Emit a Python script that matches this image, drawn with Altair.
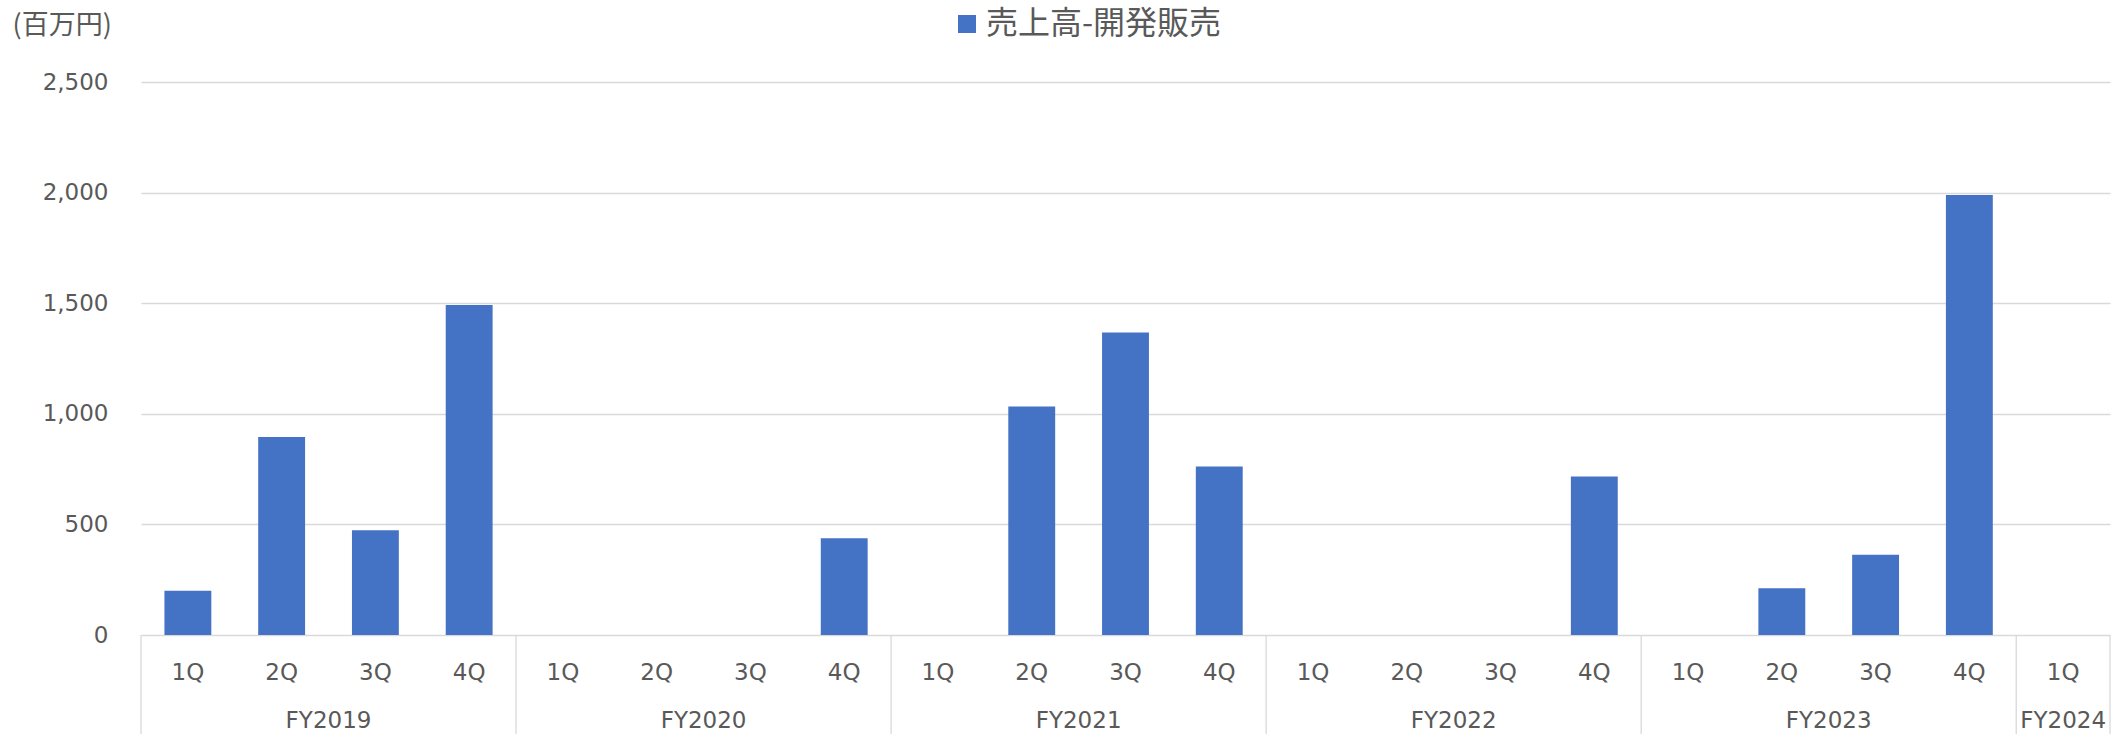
import altair as alt
import pandas as pd

# Quarterly development-sales revenue (million yen)
fiscal_year = ["FY2019"] * 4 + ["FY2020"] * 4 + ["FY2021"] * 4 + ["FY2022"] * 4 + ["FY2023"] * 4 + ["FY2024"]
quarter = ["1Q", "2Q", "3Q", "4Q"] * 5 + ["1Q"]
sales = [200, 895, 473, 1492,
         0, 0, 0, 437,
         0, 1033, 1367, 762,
         0, 0, 0, 716,
         0, 211, 363, 1989,
         0]
SERIES = "売上高-開発販売"
y_ticks = [0, 500, 1000, 1500, 2000, 2500]

BAR = "#4472C4"
GRID = "#D9D9D9"
TEXT = "#595959"
LATIN = "DejaVu Sans"
CJK = "Noto Sans CJK JP"

W, H = 1969, 553

df = pd.DataFrame({"fy": fiscal_year, "q": quarter, "sales": sales})
df["pos"] = df.index + 0.5
df["left"] = df.index + 0.25
df["right"] = df.index + 0.75
df["series"] = SERIES

groups = df.groupby("fy", sort=False)["pos"].agg(["min", "max"]).reset_index()
groups["center"] = (groups["min"] + groups["max"]) / 2
edges = sorted(set(list(groups["min"] - 0.5) + list(groups["max"] + 0.5)))
edge_df = pd.DataFrame({"edge": edges})

xs = alt.Scale(domain=[0, len(df)], nice=False, zero=False)
ys = alt.Scale(domain=[0, 2500], nice=False)

bars = alt.Chart(df).mark_rect().encode(
    x=alt.X("left:Q", scale=xs, axis=None),
    x2="right:Q",
    y=alt.Y(
        "sales:Q",
        scale=ys,
        axis=alt.Axis(
            values=y_ticks, format=",.0f", title="(百万円)",
            titleAngle=0, titleAlign="left", titleBaseline="middle",
            titleX=-129, titleY=-57, titleFont=CJK, titleFontSize=27,
            titleFontWeight="normal", titleColor=TEXT,
            labelFont=LATIN, labelFontSize=23, labelColor=TEXT, labelPadding=33,
            ticks=False, domain=False, grid=True, gridColor=GRID, gridWidth=1.3,
        ),
    ),
    y2=alt.datum(0),
    color=alt.Color(
        "series:N",
        scale=alt.Scale(range=[BAR]),
        legend=alt.Legend(
            title=None, orient="none", legendX=810, legendY=-74,
            symbolType="square", symbolSize=324, symbolStrokeWidth=0,
            labelFont=CJK, labelFontSize=32, labelColor=TEXT, labelOffset=3,
            labelLimit=0,
        ),
    ),
)

quarter_labels = alt.Chart(df).mark_text(
    font=LATIN, fontSize=23, color=TEXT, baseline="middle"
).encode(
    x=alt.X("pos:Q", scale=xs, axis=None),
    y=alt.value(591),
    text="q:N",
)

year_labels = alt.Chart(groups).mark_text(
    font=LATIN, fontSize=23, color=TEXT, baseline="middle"
).encode(
    x=alt.X("center:Q", scale=xs, axis=None),
    y=alt.value(639),
    text="fy:N",
)

dividers = alt.Chart(edge_df).mark_rule(color=GRID, strokeWidth=1.3).encode(
    x=alt.X("edge:Q", scale=xs, axis=None),
    y=alt.value(H),
    y2=alt.value(H + 99),
)

chart = alt.layer(bars, dividers, quarter_labels, year_labels).properties(
    width=W,
    height=H,
    autosize=alt.AutoSizeParams(type="none"),
    padding={"left": 141, "top": 82, "right": 1, "bottom": 99},
    background="white",
).configure_view(stroke=None)

chart.save("out.html", embed_options={"renderer": "svg", "actions": False})
